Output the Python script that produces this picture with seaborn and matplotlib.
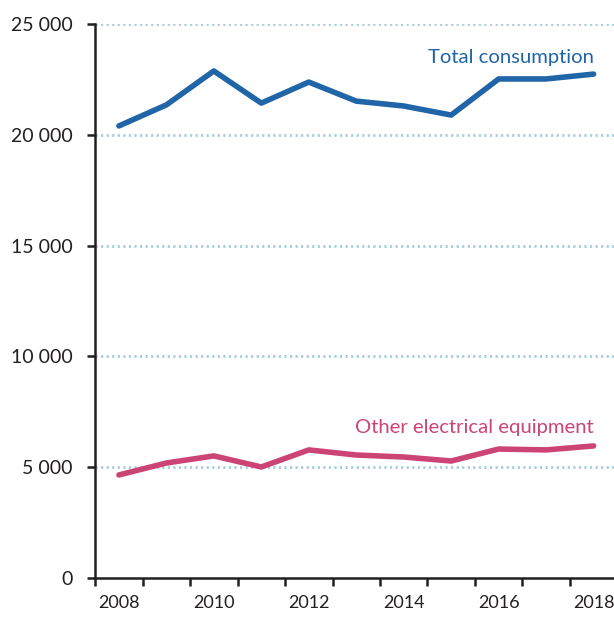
import matplotlib.pyplot as plt
import matplotlib.ticker as mticker
import pandas as pd
import seaborn as sns


YEARS = [2008, 2009, 2010, 2011, 2012, 2013, 2014, 2015, 2016, 2017, 2018]
TOTAL = [20400, 21350, 22880, 21430, 22380, 21520, 21300, 20890, 22520, 22520, 22740]
OTHER = [4650, 5190, 5510, 5010, 5780, 5550, 5460, 5280, 5820, 5780, 5960]
SERIES_NAMES = ["Total consumption", "Other electrical equipment"]
Y_TICKS = [0, 5000, 10000, 15000, 20000, 25000]
X_LABEL_YEARS = [2008, 2010, 2012, 2014, 2016, 2018]

BLUE = "#1f65a8"
PINK = "#cc4474"
GRID = "#a9cdd9"
AXIS = "#231f20"
FONT_SIZE = 13


def build_frame() -> pd.DataFrame:
    wide = pd.DataFrame({"year": YEARS, SERIES_NAMES[0]: TOTAL, SERIES_NAMES[1]: OTHER})
    return wide.melt(id_vars="year", var_name="series", value_name="value")


def fmt_thousands(v, _pos):
    return f"{int(v):,}".replace(",", " ")


def main() -> None:
    sns.set_style("white")
    plt.rcParams["font.family"] = ["Lato", "DejaVu Sans"]
    plt.rcParams["font.size"] = FONT_SIZE

    df = build_frame()
    fig = plt.figure(figsize=(6.14, 6.17), dpi=100)
    ax = fig.add_axes([0.155, 0.0632, 0.845, 0.8979])

    sns.lineplot(
        data=df,
        x="year",
        y="value",
        hue="series",
        palette={SERIES_NAMES[0]: BLUE, SERIES_NAMES[1]: PINK},
        linewidth=4.0,
        legend=False,
        ax=ax,
    )
    for line in ax.get_lines():
        line.set_solid_capstyle("round")
        line.set_solid_joinstyle("round")

    ax.set_xlim(2007.5, 2018.43)
    ax.set_ylim(0, 25000)
    ax.set_yticks(Y_TICKS)
    ax.yaxis.set_major_formatter(mticker.FuncFormatter(fmt_thousands))
    ax.set_xticks(X_LABEL_YEARS)
    ax.set_xticks([y + 0.5 for y in YEARS[:-1]] + [2007.5], minor=True)
    ax.set_xlabel("")
    ax.set_ylabel("")

    for y in Y_TICKS[1:]:
        ax.axhline(y, color=GRID, linewidth=2.0, linestyle=(0, (0.8, 1.2)), zorder=0)

    for side in ["top", "right"]:
        ax.spines[side].set_visible(False)
    for side in ["left", "bottom"]:
        ax.spines[side].set_color(AXIS)
        ax.spines[side].set_linewidth(1.8)

    ax.tick_params(axis="y", which="major", direction="out", length=5.5, width=1.8,
                   color=AXIS, labelcolor=AXIS, labelsize=14, pad=11, left=True)
    ax.tick_params(axis="x", which="major", length=0, labelcolor=AXIS,
                   labelsize=FONT_SIZE, pad=12)
    ax.tick_params(axis="x", which="minor", direction="out", length=5.5, width=1.8,
                   color=AXIS, bottom=True)

    ax.text(2018.0, 23500, SERIES_NAMES[0], color=BLUE, ha="right", va="center",
            fontsize=14.6)
    ax.text(2018.0, 6770, SERIES_NAMES[1], color=PINK, ha="right", va="center",
            fontsize=14.6)

    fig.savefig("out.png", dpi=100)
    plt.close(fig)


if __name__ == "__main__":
    main()
